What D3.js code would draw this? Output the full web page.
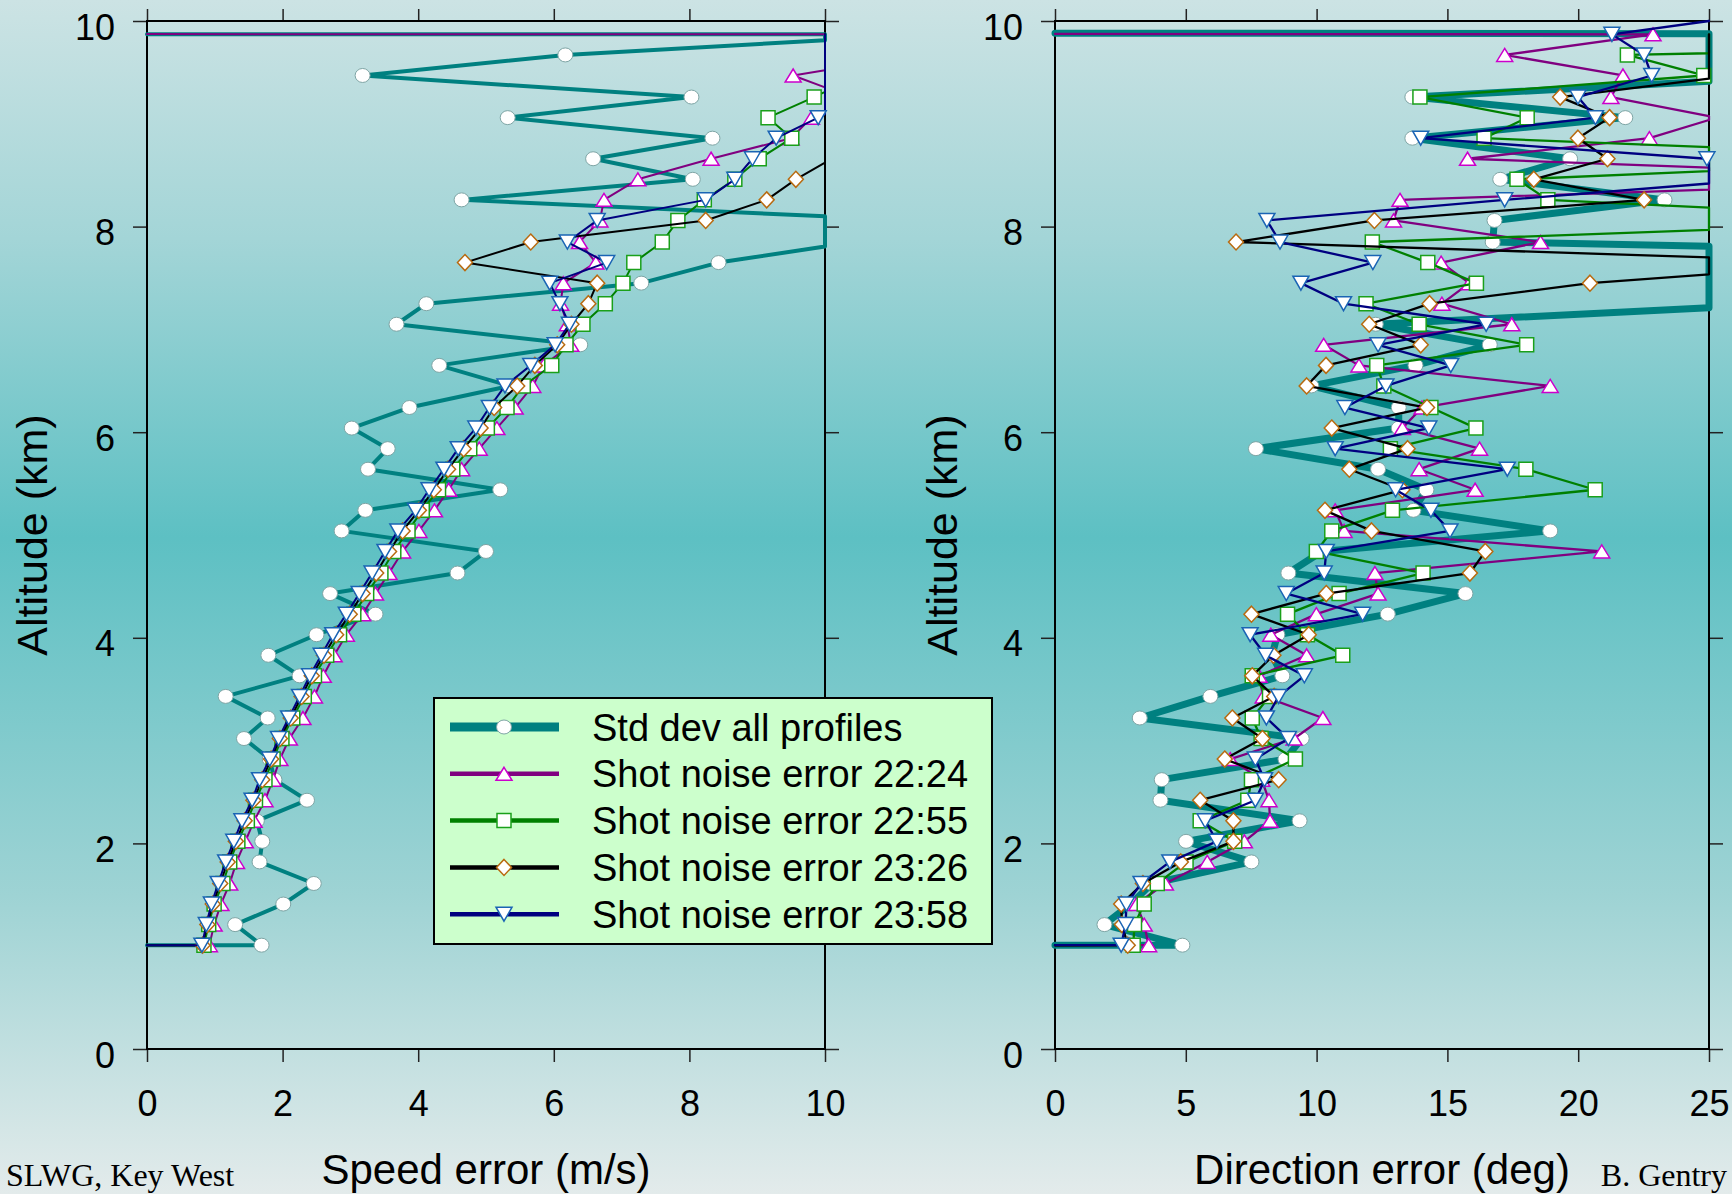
<!DOCTYPE html>
<html>
<head>
<meta charset="utf-8">
<script src="https://cdn.jsdelivr.net/npm/d3@7"></script>
<style>
  html, body { margin: 0; padding: 0; }
  body { width: 1732px; height: 1194px; overflow: hidden; }
  svg text { font-family: "Liberation Sans", Arial, sans-serif; }
</style>
</head>
<body>
<svg id="chart" width="1732" height="1194"></svg>
<script>
// Retrieval altitude levels (km). The first and last rows carry the -999 missing-value flag.
const altitude = [0.81, 1.01, 1.21, 1.41, 1.61, 1.82, 2.02, 2.22, 2.42, 2.62, 2.82, 3.02, 3.22, 3.43, 3.63, 3.83,
  4.03, 4.23, 4.43, 4.63, 4.84, 5.04, 5.24, 5.44, 5.64, 5.84, 6.04, 6.24, 6.45, 6.65, 6.85, 7.05, 7.25, 7.45,
  7.65, 7.85, 8.06, 8.26, 8.46, 8.66, 8.86, 9.06, 9.26, 9.47, 9.67, 9.87, 10.07];

// Speed error (m/s)
const speedStd = [-999, 1.69, 1.30, 2.01, 2.46, 1.66, 1.70, 1.62, 2.36, 1.88, 1.81, 1.43, 1.78, 1.16, 2.25, 1.79,
  2.50, 3.37, 2.70, 4.58, 5.00, 2.87, 3.22, 5.21, 3.26, 3.55, 3.02, 3.87, 5.35, 4.31, 6.39, 3.68, 4.12, 7.29,
  8.43, 10.44, 11.38, 4.64, 8.05, 6.58, 8.34, 5.32, 8.03, 3.18, 6.17, 11.53, -999];
const speed2224 = [-999, 0.92, 0.99, 1.09, 1.22, 1.32, 1.45, 1.58, 1.74, 1.86, 1.96, 2.10, 2.30, 2.47, 2.60, 2.76,
  2.94, 3.18, 3.37, 3.57, 3.77, 4.01, 4.24, 4.45, 4.64, 4.90, 5.16, 5.43, 5.69, 5.85, 6.25, 6.20, 6.10, 6.14,
  6.62, 6.38, 6.68, 6.74, 7.24, 8.32, 9.50, 9.80, 10.38, 9.53, 11.40, 12.00, -999];
const speed2255 = [-999, 0.84, 0.91, 0.99, 1.12, 1.22, 1.34, 1.48, 1.60, 1.74, 1.86, 1.99, 2.15, 2.32, 2.47, 2.65,
  2.84, 3.05, 3.24, 3.45, 3.64, 3.85, 4.06, 4.30, 4.51, 4.76, 5.02, 5.31, 5.55, 5.97, 6.18, 6.43, 6.76, 7.02,
  7.18, 7.60, 7.83, 8.22, 8.67, 9.03, 9.51, 9.16, 9.84, 10.50, 11.00, 11.50, null];
const speed2326 = [-999, 0.82, 0.89, 0.97, 1.08, 1.19, 1.31, 1.44, 1.57, 1.70, 1.83, 1.96, 2.12, 2.28, 2.43, 2.61,
  2.79, 2.99, 3.18, 3.38, 3.57, 3.77, 4.01, 4.23, 4.44, 4.67, 4.92, 5.12, 5.46, 5.72, 6.05, 6.26, 6.51, 6.64,
  4.69, 5.66, 8.24, 9.14, 9.57, 10.10, 10.50, 11.00, 11.50, 12.00, 12.50, 13.00, null];
const speed2358 = [-999, 0.81, 0.875, 0.95, 1.05, 1.16, 1.28, 1.40, 1.55, 1.66, 1.81, 1.94, 2.09, 2.25, 2.40, 2.57,
  2.74, 2.94, 3.13, 3.32, 3.51, 3.70, 3.96, 4.16, 4.38, 4.59, 4.85, 5.05, 5.28, 5.66, 6.02, 6.23, 6.09, 5.94,
  6.78, 6.20, 6.64, 8.24, 8.67, 8.93, 9.28, 9.90, 10.50, 11.00, 11.50, 12.00, null];

// Direction error (deg)
const dirStd = [-999, 4.87, 1.89, 2.90, 3.70, 7.51, 5.01, 9.35, 4.03, 4.08, 8.81, 9.43, 3.24, 5.94, 8.69, 8.30,
  8.50, 12.72, 15.69, 8.92, 10.20, 18.93, 13.70, 14.20, 12.35, 7.68, 13.14, 13.14, 9.80, 13.78, 16.62, 12.26,
  28.2, 40, 58, 16.73, 16.80, 23.30, 17.02, 19.69, 13.66, 21.80, 13.66, 29.2, 40, 60, -999];
const dir2224 = [-999, 3.58, 3.41, 3.12, 4.22, 5.82, 7.24, 8.22, 8.18, 7.90, 6.70, 9.14, 10.24, 7.96, 7.80, 9.62,
  8.25, 9.99, 12.35, 12.23, 20.90, 11.05, 10.71, 16.06, 13.92, 16.23, 13.28, 14.03, 18.93, 11.62, 10.27, 17.46,
  14.79, 15.84, 14.76, 18.56, 12.94, 13.19, 37, 15.77, 22.72, 25.3, 21.25, 21.71, 17.19, 22.86, -999];
const dir2255 = [-999, 2.99, 3.04, 3.41, 3.91, 5.01, 6.87, 5.55, 7.37, 7.51, 9.19, 7.88, 7.54, 8.20, 7.54, 11.00,
  9.65, 8.89, 10.86, 14.07, 9.99, 10.58, 12.90, 20.65, 18.00, 12.82, 16.09, 14.37, 12.57, 12.30, 18.03, 13.92,
  11.89, 16.11, 14.25, 12.13, 35, 18.84, 17.66, 36, 16.40, 18.05, 13.95, 24.80, 21.88, 60, null];
const dir2326 = [-999, 2.78, 2.56, 2.53, 3.36, 4.81, 6.82, 6.82, 5.55, 8.55, 6.49, 7.93, 6.78, 8.38, 7.54, 8.35,
  9.70, 7.51, 10.37, 15.86, 16.45, 12.10, 10.32, 13.28, 11.25, 13.48, 10.58, 14.22, 9.62, 10.36, 13.98, 12.01,
  14.32, 20.45, 31, 6.92, 12.21, 22.52, 18.30, 21.12, 19.99, 21.20, 19.31, 26, 40, 40, null];
const dir2358 = [-999, 2.53, 2.70, 2.73, 3.29, 4.39, 6.19, 5.74, 7.66, 8.01, 7.66, 8.92, 8.08, 8.55, 9.53, 8.05,
  7.46, 11.76, 8.84, 10.29, 10.37, 15.10, 14.37, 13.02, 17.29, 10.71, 14.29, 11.08, 12.65, 15.13, 12.35, 16.48,
  11.03, 9.40, 12.15, 8.60, 8.10, 17.19, 27, 24.92, 13.98, 20.66, 19.99, 22.81, 22.52, 21.29, 27];

const seriesNames = ["Std dev all profiles", "Shot noise error 22:24", "Shot noise error 22:55",
  "Shot noise error 23:26", "Shot noise error 23:58"];
const altTicks = [0, 2, 4, 6, 8, 10];
const speedTicks = [0, 2, 4, 6, 8, 10];
const dirTicks = [0, 5, 10, 15, 20, 25];

// Line and marker styling per series
const styles = [
  { line: "#008080", marker: "circle", stroke: "#7fa5a5", sw: 1 },
  { line: "#800080", marker: "up", stroke: "#cc00cc", sw: 1.5 },
  { line: "#008000", marker: "square", stroke: "#1aa01a", sw: 1.5 },
  { line: "#000000", marker: "diamond", stroke: "#b86a10", sw: 1.5 },
  { line: "#000080", marker: "down", stroke: "#1a64b4", sw: 1.5 }
];

const W = 1732, H = 1194;
const svg = d3.select("#chart");

// page background
const grad = svg.append("defs").append("linearGradient")
  .attr("id", "bg").attr("x1", 0).attr("y1", 0).attr("x2", 0).attr("y2", 1);
[[0, "#cce3e4"], [0.2, "#a3d5d7"], [0.45, "#5dc0c3"], [0.75, "#9ed3d4"], [1, "#e3ebeb"]]
  .forEach(([o, c]) => grad.append("stop").attr("offset", o).attr("stop-color", c));
svg.append("rect").attr("width", W).attr("height", H).attr("fill", "url(#bg)");

function markerPath(type, w, h) {
  const a = w / 2, b = h / 2;
  switch (type) {
    case "circle": return `M${-a},0A${a},${b} 0 1,0 ${a},0A${a},${b} 0 1,0 ${-a},0Z`;
    case "up": return `M0,${-b}L${a},${b}L${-a},${b}Z`;
    case "down": return `M0,${b}L${a},${-b}L${-a},${-b}Z`;
    case "square": return `M${-a},${-b}h${w}v${h}h${-w}Z`;
    case "diamond": return `M0,${-b}L${a},0L0,${b}L${-a},0Z`;
  }
}
const markerSize = { circle: [15, 14], up: [16, 13], down: [16, 14], square: [14, 14], diamond: [15, 16] };

// Values beyond the upper axis limits are pinned to the frame: each segment is split where it
// crosses a frame edge and every piece is clamped, so excursions run along the border.
// Flagged (negative) values are cut off at the zero axis instead.
function clampedPath(points, xmax, ymax) {
  const out = [];
  const push = p => {
    if (p[0] < -1e-9) return;
    const c = [Math.max(0, Math.min(xmax, p[0])), Math.max(0, Math.min(ymax, p[1]))];
    const last = out[out.length - 1];
    if (!last || Math.abs(last[0] - c[0]) > 1e-9 || Math.abs(last[1] - c[1]) > 1e-9) out.push(c);
  };
  for (let i = 0; i < points.length - 1; i++) {
    const p = points[i], q = points[i + 1];
    const ts = [];
    [[0, 0], [0, xmax], [1, 0], [1, ymax]].forEach(([d, b]) => {
      if ((p[d] - b) * (q[d] - b) < 0) ts.push((b - p[d]) / (q[d] - p[d]));
    });
    ts.sort((a, b) => a - b);
    if (i === 0) push(p);
    ts.forEach(t => push([p[0] + t * (q[0] - p[0]), p[1] + t * (q[1] - p[1])]));
    push(q);
  }
  return out;
}

function drawPanel(cfg) {
  const x = d3.scaleLinear().domain([0, cfg.xmax]).range([cfg.left, cfg.right]);
  const y = d3.scaleLinear().domain([0, 10]).range([1049, 21]);
  const g = svg.append("g");

  const styleAxis = sel => {
    sel.select(".domain").remove();
    sel.selectAll(".tick line").attr("stroke", "#222").attr("stroke-width", 1.5);
    sel.selectAll("text").attr("fill", "#000").style("font-size", "36px")
      .style("font-family", '"Liberation Sans", Arial, sans-serif');
  };

  g.append("g").attr("transform", `translate(0,${y(0)})`)
    .call(d3.axisBottom(x).tickValues(cfg.xticks).tickSize(13).tickPadding(28).tickFormat(d3.format("d")))
    .call(styleAxis);
  g.append("g").attr("transform", `translate(0,${y(10)})`)
    .call(d3.axisTop(x).tickValues(cfg.xticks).tickSize(12).tickFormat(""))
    .call(styleAxis);
  g.append("g").attr("transform", `translate(${x(0)},0)`)
    .call(d3.axisLeft(y).tickValues(altTicks).tickSize(14).tickPadding(18).tickFormat(d3.format("d")))
    .call(styleAxis)
    .call(s => s.selectAll("text").attr("dy", "0.5em"));
  g.append("g").attr("transform", `translate(${x(cfg.xmax)},0)`)
    .call(d3.axisRight(y).tickValues(altTicks).tickSize(14).tickFormat(""))
    .call(styleAxis);

  g.append("rect")
    .attr("x", x(0)).attr("y", y(10))
    .attr("width", x(cfg.xmax) - x(0)).attr("height", y(0) - y(10))
    .attr("fill", "none").attr("stroke", "#000").attr("stroke-width", 2);

  const line = d3.line().x(d => x(d[0])).y(d => y(d[1]));

  cfg.series.forEach((vals, si) => {
    const st = styles[si];
    const pts = [];
    vals.forEach((v, i) => { if (v !== null) pts.push([v, altitude[i]]); });
    g.append("path")
      .attr("d", line(clampedPath(pts, cfg.xmax, 10)))
      .attr("fill", "none")
      .attr("stroke", st.line)
      .attr("stroke-width", si === 0 ? cfg.stdWidth : cfg.lineWidth)
      .attr("stroke-linejoin", "round")
      .attr("stroke-linecap", "round");
    const shown = pts.filter(p => p[0] >= 0 && p[0] <= cfg.xmax && p[1] >= 0 && p[1] <= 10);
    const [mw, mh] = markerSize[st.marker];
    g.append("g").selectAll("path").data(shown).join("path")
      .attr("transform", d => `translate(${x(d[0])},${y(d[1])})`)
      .attr("d", markerPath(st.marker, mw, mh))
      .attr("fill", "#fff")
      .attr("stroke", st.stroke)
      .attr("stroke-width", st.sw);
  });

  g.append("text")
    .attr("x", (cfg.left + cfg.right) / 2).attr("y", 1184)
    .attr("text-anchor", "middle").style("font-size", "42px")
    .text(cfg.xtitle);
  g.append("text")
    .attr("transform", `translate(${cfg.left - cfg.titleGap},535) rotate(-90)`)
    .attr("text-anchor", "middle").style("font-size", "43px")
    .text("Altitude (km)");
}

drawPanel({
  left: 147, right: 825, xmax: 10, xticks: speedTicks, titleGap: 100,
  stdWidth: 4, lineWidth: 2,
  series: [speedStd, speed2224, speed2255, speed2326, speed2358],
  xtitle: "Speed error (m/s)"
});
drawPanel({
  left: 1055, right: 1709, xmax: 25, xticks: dirTicks, titleGap: 98,
  stdWidth: 7, lineWidth: 2.3,
  series: [dirStd, dir2224, dir2255, dir2326, dir2358],
  xtitle: "Direction error (deg)"
});

// legend
const lg = svg.append("g");
lg.append("rect").attr("x", 434).attr("y", 698).attr("width", 558).attr("height", 246)
  .attr("fill", "#ccffcc").attr("stroke", "#000").attr("stroke-width", 2);
seriesNames.forEach((name, i) => {
  const st = styles[i];
  const cy = 727 + i * 46.8;
  lg.append("line").attr("x1", 450).attr("x2", 559).attr("y1", cy).attr("y2", cy)
    .attr("stroke", st.line).attr("stroke-width", i === 0 ? 9 : 4.5);
  const [mw, mh] = markerSize[st.marker];
  lg.append("path").attr("transform", `translate(504,${cy})`)
    .attr("d", markerPath(st.marker, mw, mh))
    .attr("fill", "#fff").attr("stroke", st.stroke).attr("stroke-width", st.sw);
  lg.append("text").attr("x", 592).attr("y", cy).attr("dy", "0.36em")
    .style("font-size", "38px").text(name);
});

// footer credits
svg.append("text").attr("x", 6).attr("y", 1186)
  .style("font-family", '"Liberation Serif", "Times New Roman", serif').style("font-size", "32px")
  .text("SLWG, Key West");
svg.append("text").attr("x", 1727).attr("y", 1186).attr("text-anchor", "end")
  .style("font-family", '"Liberation Serif", "Times New Roman", serif').style("font-size", "32px")
  .text("B. Gentry");
</script>
</body>
</html>
